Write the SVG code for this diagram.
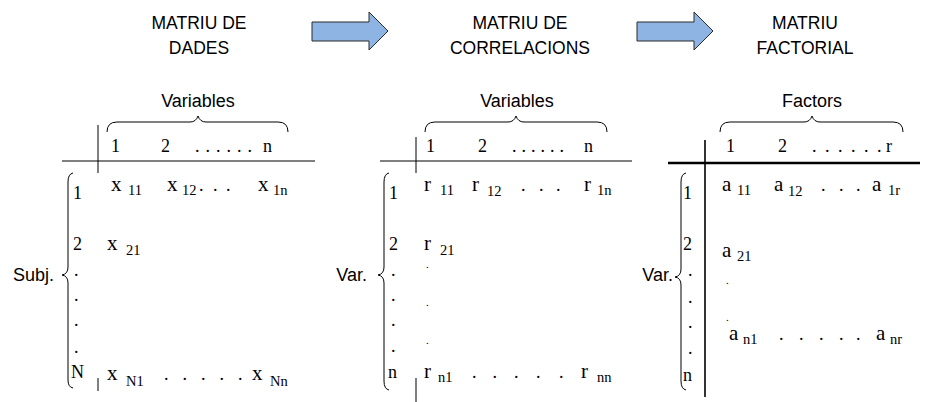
<svg xmlns="http://www.w3.org/2000/svg" width="939" height="402" viewBox="0 0 939 402">
<style>
.t{font-family:"Liberation Sans",Arial,sans-serif;font-size:17.5px;fill:#000;text-anchor:middle}
.l{font-family:"Liberation Sans",Arial,sans-serif;font-size:18px;fill:#000}
.h{font-family:"Liberation Serif","Times New Roman",serif;font-size:18px;fill:#000}
.v{font-family:"Liberation Serif","Times New Roman",serif;font-size:21px;fill:#000}
.s{font-family:"Liberation Serif","Times New Roman",serif;font-size:14.5px;fill:#000}
.d{font-family:"Liberation Serif","Times New Roman",serif;font-size:11px;fill:#000}
.br{fill:none;stroke:#000;stroke-width:1}
.ln{stroke:#000;stroke-width:1}
.arr{fill:#8EB4E3;stroke:#2b2b2b;stroke-width:1}
</style>
<rect width="939" height="402" fill="#fff"/>

<g id="title1">
<text class="t" x="199" y="29">MATRIU DE</text>
<text class="t" x="199" y="54">DADES</text>
</g>
<g id="title2">
<text class="t" x="520" y="29">MATRIU DE</text>
<text class="t" x="520" y="54">CORRELACIONS</text>
</g>
<g id="title3">
<text class="t" x="805" y="29">MATRIU</text>
<text class="t" x="805" y="54">FACTORIAL</text>
</g>

<g id="connectors">
<path class="arr" d="M312,22 L369,22 L369,12 L388,31 L369,50 L369,41 L312,41 Z"/>
<path class="arr" d="M637,22 L694,22 L694,12 L713,31 L694,50 L694,41 L637,41 Z"/>
</g>

<g id="m1">
<text class="l" x="198" y="107" text-anchor="middle">Variables</text>
<path class="br" d="M107,132 Q107,122 117,122 L190,122 Q196,122 198,116 Q200,122 206,122 L278,122 Q288,122 288,132"/>
<line class="ln" x1="98" y1="125" x2="98" y2="173"/>
<line class="ln" x1="62" y1="161" x2="315" y2="161"/>
<line class="ln" x1="98" y1="378" x2="98" y2="391"/>
<text class="h" x="111" y="152">1</text>
<text class="h" x="161" y="152">2</text>
<text class="h" x="195 205.5 216 226.5 237 247.5" y="152">......</text>
<text class="h" x="263" y="152">n</text>
<path class="br" d="M73,173 Q68,174 68,182 L68,267 Q68,274 62,275 Q68,276 68,283 L68,380 Q68,387 73,388"/>
<text class="l" x="13" y="281">Subj.</text>
<text class="h" x="73" y="199">1</text>
<text class="h" x="73" y="250">2</text>
<text class="h" x="74" y="276">.</text>
<text class="h" x="74" y="301">.</text>
<text class="h" x="74" y="326">.</text>
<text class="h" x="74" y="353">.</text>
<text class="h" x="71" y="378">N</text>
<text class="v" x="111" y="191">x</text><text class="s" x="128" y="195">11</text>
<text class="v" x="167" y="191">x</text><text class="s" x="182" y="195">12</text>
<text class="h" x="199 213 226" y="191">...</text>
<text class="v" x="258" y="191">x</text><text class="s" x="273" y="195">1n</text>
<text class="v" x="107" y="250">x</text><text class="s" x="126" y="255">21</text>
<text class="v" x="107" y="380">x</text><text class="s" x="126" y="386">N1</text>
<text class="h" x="164 182.5 201 219.5 238" y="380">.....</text>
<text class="v" x="252" y="380">x</text><text class="s" x="270" y="386">Nn</text>
</g>

<g id="m2">
<text class="l" x="517" y="107" text-anchor="middle">Variables</text>
<path class="br" d="M425,132 Q425,122 435,122 L508,122 Q514,122 516,116 Q518,122 524,122 L597,122 Q607,122 607,132"/>
<line class="ln" x1="416" y1="137" x2="416" y2="173"/>
<line class="ln" x1="380" y1="161" x2="632" y2="161"/>
<line class="ln" x1="416" y1="378" x2="416" y2="402"/>
<text class="h" x="426" y="152">1</text>
<text class="h" x="478" y="152">2</text>
<text class="h" x="512 521.5 531 540.5 550 559.5" y="152">......</text>
<text class="h" x="584" y="152">n</text>
<path class="br" d="M389,173 Q384,174 384,182 L384,267 Q384,274 378,275 Q384,276 384,283 L384,381 Q384,389 389,390"/>
<text class="l" x="367" y="281" text-anchor="end">Var.</text>
<text class="h" x="389" y="199">1</text>
<text class="h" x="389" y="250">2</text>
<text class="h" x="391" y="276">.</text>
<text class="h" x="391" y="301">.</text>
<text class="h" x="391" y="326">.</text>
<text class="h" x="391" y="352">.</text>
<text class="h" x="388" y="378">n</text>
<text class="v" x="424" y="191">r</text><text class="s" x="440" y="195">11</text>
<text class="v" x="472" y="191">r</text><text class="s" x="487" y="196">12</text>
<text class="h" x="521 539 556" y="191">...</text>
<text class="v" x="584" y="191">r</text><text class="s" x="597" y="195">1n</text>
<text class="v" x="424" y="250">r</text><text class="s" x="440" y="255">21</text>
<text class="d" x="426" y="268">.</text>
<text class="d" x="426" y="306">.</text>
<text class="d" x="426" y="344">.</text>
<text class="v" x="424" y="378">r</text><text class="s" x="438" y="382">n1</text>
<text class="h" x="472 492.5 514 536 559" y="378">.....</text>
<text class="v" x="581" y="378">r</text><text class="s" x="597" y="382">nn</text>
</g>

<g id="m3">
<text class="l" x="812" y="107" text-anchor="middle">Factors</text>
<path class="br" d="M720,132 Q720,122 730,122 L804,122 Q810,122 812,116 Q814,122 820,122 L893,122 Q903,122 903,132"/>
<line stroke="#000" stroke-width="1.6" x1="705" y1="140" x2="705" y2="397"/>
<line stroke="#000" stroke-width="2.6" x1="668" y1="163" x2="920" y2="163"/>
<text class="h" x="726" y="152">1</text>
<text class="h" x="778" y="152">2</text>
<text class="h" x="812 825 838 851 864 877" y="152">......</text>
<text class="h" x="886" y="152">r</text>
<path class="br" d="M686,173 Q681,174 681,182 L681,269 Q681,276 675,277 Q681,278 681,285 L681,381 Q681,389 686,390"/>
<text class="l" x="673" y="281" text-anchor="end">Var.</text>
<text class="h" x="683" y="199">1</text>
<text class="h" x="683" y="250">2</text>
<text class="h" x="688" y="276">.</text>
<text class="h" x="688" y="303">.</text>
<text class="h" x="688" y="328">.</text>
<text class="h" x="688" y="354">.</text>
<text class="h" x="683" y="381">n</text>
<text class="v" x="722" y="191">a</text><text class="s" x="737" y="195">11</text>
<text class="v" x="774" y="191">a</text><text class="s" x="788" y="196">12</text>
<text class="h" x="821 839 856" y="191">...</text>
<text class="v" x="872" y="191">a</text><text class="s" x="888" y="195">1r</text>
<text class="v" x="722" y="257">a</text><text class="s" x="737" y="261">21</text>
<text class="d" x="726" y="284">.</text>
<text class="d" x="726" y="321">.</text>
<text class="v" x="729" y="340">a</text><text class="s" x="743" y="344">n1</text>
<text class="h" x="779 799 819 839 856" y="340">.....</text>
<text class="v" x="876" y="340">a</text><text class="s" x="890" y="344">nr</text>
</g>
</svg>
